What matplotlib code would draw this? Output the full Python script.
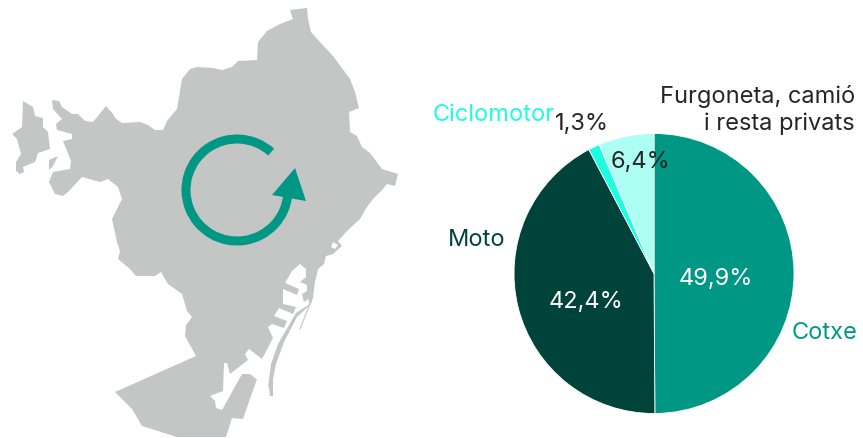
import numpy as np
import matplotlib
matplotlib.use('Agg')
import matplotlib.pyplot as plt
from matplotlib.patches import Polygon, Arc

plt.rcParams['font.family'] = ['Inter', 'DejaVu Sans']

# pie data
categories = ['Cotxe', 'Furgoneta, camió\ni resta privats', 'Ciclomotor', 'Moto']
shares = [49.9, 6.4, 1.3, 42.4]
share_labels = ['49,9%', '6,4%', '1,3%', '42,4%']
pie_order = [0, 3, 2, 1]  # clockwise from the top
colors = ['#009884', '#adfff3', '#1affe0', '#00433b']
label_colors = ['#009884', '#262626', '#1affe0', '#00433b']

# map outline, in image pixels
land = [(290,11),(307,9),(308,20),(311,33),(320,43),(333,57),(350,80),(355,93),(359,109),(349,113),
        (350,133),(357,137),(362,148),(370,154),(382,170),(398,175),(395,187),(387,185),(382,191),
        (373,200),(367,208),(360,220),(347,232),(338,242),(342,247),(333,255),(326,257),(324,265),
        (318,270),(315,283),(313,298),(311,305),(297,318),(284,343),(276,365),(273,380),(273,397),
        (270,397),(269,388),(257,380),(243,420),(232,419),(226,438),(177,438),(142,427),(132,410),(115,393),
        (196,357),(185,337),(186,326),(192,318),(187,312),(182,295),(168,285),(161,273),(155,277),
        (136,277),(130,270),(118,260),(120,252),(117,243),(112,220),(122,200),(118,188),(108,180),
        (100,183),(82,178),(68,193),(63,197),(55,195),(49,183),(53,173),(70,170),(71,162),(63,142),
        (72,140),(72,135),(57,131),(56,125),(62,120),(53,110),(52,101),(59,102),(62,108),(72,115),
        (78,115),(85,122),(93,123),(106,107),(113,115),(115,119),(122,124),(140,123),(148,126),
        (155,131),(163,131),(167,122),(177,110),(182,80),(190,70),(197,68),(213,69),(222,71),(232,68),
        (238,62),(257,61),(258,43),(267,32),(280,25),(293,20)]
island = [(23,102),(33,108),(35,117),(43,119),(43,128),(48,133),(50,150),(38,154),(35,163),(23,168),
          (24,173),(20,175),(16,172),(16,163),(21,155),(17,140),(12,135),(22,128)]
islet = [(58,157),(53,167),(49,171),(49,161)]
harbour = [(300,265),(306,270),(306,278),(300,283),(307,286),(307,292),(302,295),(304,303),(308,300),
           (310,305),(302,310),(296,314),(278,345),(271,365),(269,380),(268,388),(255,379),(250,375),
           (242,375),(222,411),(216,409),(215,402),(210,397),(223,392),(224,364),(227,364),(230,375),
           (248,361),(245,355),(249,350),(262,360),(273,339),(268,328),(272,325),(284,329),(287,322),
           (274,317),(279,309),(293,315),(296,308),(283,305),(283,290),(297,296),(299,290),(285,284),(292,272)]
marina = [(333,243),(338,246),(335,250),(331,248)]
breakwater_x = [313, 300]
breakwater_y = [297, 330]

# arrow around the map, in image pixels
ring_center = (237, 191)
ring_radius = 51
arrow_head = [(295,169),(272,196),(306,202)]

fig = plt.figure(figsize=(8.63, 4.39), dpi=100)
W, H = 863, 439

bg = fig.add_axes([0, 0, 1, 1])
bg.set_xlim(0, W)
bg.set_ylim(H, 0)
bg.axis('off')

grey = '#c4c6c5'
for shape in [land, island, islet]:
    bg.add_patch(Polygon(shape, closed=True, fc=grey, ec='none'))
for shape in [harbour, marina]:
    bg.add_patch(Polygon(shape, closed=True, fc='white', ec='none'))
bg.plot(breakwater_x, breakwater_y, color=grey, lw=0.8)

teal = '#009884'
# y axis is flipped here, so the angles run clockwise on screen
bg.add_patch(Arc(ring_center, 2*ring_radius, 2*ring_radius, theta1=5, theta2=312,
                 color=teal, lw=6.5, capstyle='butt'))
bg.add_patch(Polygon(arrow_head, closed=True, fc=teal, ec='none'))

# pie: centre (654,274), radius 140 px
cx, cy, r = 654, 274.5, 140
ax = fig.add_axes([(cx-r)/W, 1-(cy+r)/H, 2*r/W, 2*r/H])
vals = [shares[i] for i in pie_order]
cols = [colors[i] for i in pie_order]
ax.pie(vals, colors=cols, startangle=90, counterclock=False, radius=1,
       wedgeprops={'edgecolor': 'white', 'linewidth': 0.6})
ax.set_xlim(-1, 1)
ax.set_ylim(-1, 1)
ax.axis('off')

fs = 17
txt = fig.add_axes([0, 0, 1, 1])
txt.set_xlim(0, W)
txt.set_ylim(H, 0)
txt.axis('off')
txt.patch.set_alpha(0)

txt.text(716, 279, share_labels[0], color='white', fontsize=fs, ha='center', va='center')
txt.text(586, 302, share_labels[3], color='white', fontsize=fs, ha='center', va='center')
txt.text(640, 162, share_labels[1], color='#262626', fontsize=fs, ha='center', va='center')
txt.text(582, 124, share_labels[2], color='#262626', fontsize=fs, ha='center', va='center')

txt.text(857, 333, categories[0], color=label_colors[0], fontsize=fs, ha='right', va='center')
txt.text(855, 110, categories[1], color=label_colors[1], fontsize=fs, ha='right', va='center',
         linespacing=1.25, multialignment='right')
txt.text(433, 115, categories[2], color=label_colors[2], fontsize=fs, ha='left', va='center')
txt.text(448, 240, categories[3], color=label_colors[3], fontsize=fs, ha='left', va='center')

fig.savefig('out.png', dpi=100)
